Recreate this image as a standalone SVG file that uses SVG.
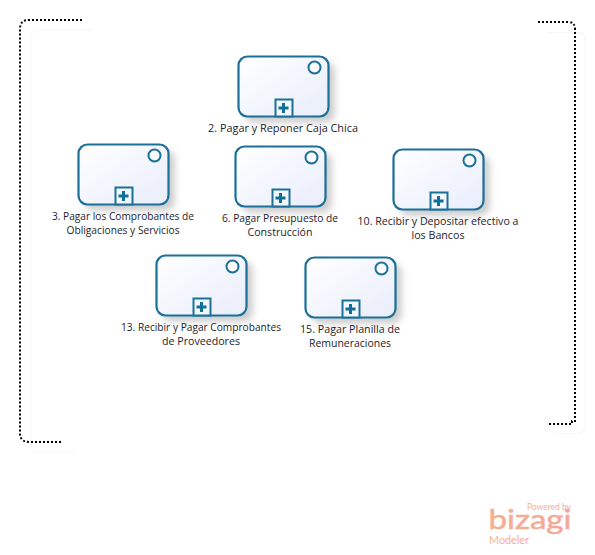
<svg xmlns="http://www.w3.org/2000/svg" width="595" height="555" viewBox="0 0 595 555">
<style>
.frame{fill:none;stroke:#000;stroke-width:2;stroke-dasharray:2 2}
.faint{fill:none;stroke:#f5f5f5;stroke-width:1}
.task{fill:url(#fillG);stroke:#1a7099;stroke-width:2.2}
.shadow{fill:#8d8d8d;opacity:.45;filter:url(#blur)}
.mark{fill:#fff;stroke:#1a7099;stroke-width:2}
.sub{fill:#f4f6fd;stroke:#1a7099;stroke-width:2}
.plus{fill:none;stroke:#0f6f99;stroke-width:3}
text{font-family:"Open Sans","Liberation Sans",sans-serif;font-size:10px;fill:#1c1c2c;text-anchor:middle}
text.logo{fill:url(#logoG);font-family:Lato,"Liberation Sans",sans-serif}
text.pw{font-size:9.500px;font-weight:400}
text.bz{font-size:26px;font-weight:400;stroke:#f4ad98;stroke-width:.5}
text.md{font-size:11px;font-weight:400}
</style>
<defs>
<linearGradient id="fillG" x1="0" y1="0" x2="1" y2="1"><stop offset="0" stop-color="#ffffff"/><stop offset="1" stop-color="#e9edfb"/></linearGradient>
<linearGradient id="logoG" x1="0" y1="0" x2="1" y2="0"><stop offset="0" stop-color="#f6b489"/><stop offset="1" stop-color="#f2a5a0"/></linearGradient>
<filter id="blur" x="-20%" y="-20%" width="140%" height="140%"><feGaussianBlur stdDeviation="3.500"/></filter>
<g id="taskShape">
<rect class="shadow" x="6" y="6" width="90" height="60" rx="9"/>
<rect class="task" width="90" height="60" rx="9"/>
<circle class="mark" cx="76" cy="11" r="6"/>
<rect class="sub" x="37" y="43" width="17" height="17"/>
<path class="plus" d="M40 51.500H50M45 46.500V56.500"/>
</g>
</defs>
<g id="frame">
<path class="faint" d="M31 93V37Q31 30 38 30H93M31 93V445Q31 452 38 452H76M555 433.500H578Q585 433.500 585 426V40Q585 32.500 578 32.500H548"/>
<path class="frame" d="M82 20H29Q20 20 20 29V433Q20 442 29 442H63"/>
<path class="frame" d="M538 22H568Q575 22 575 29V421H572V424H547"/>
</g>
<g id="connectors"/>
<g id="n2"><use href="#taskShape" x="238.500" y="56.500"/><text x="283" y="132" textLength="150" lengthAdjust="spacingAndGlyphs">2. Pagar y Reponer Caja Chica</text></g>
<g id="n3"><use href="#taskShape" x="78.500" y="144.500"/><text x="123" y="220" textLength="142" lengthAdjust="spacingAndGlyphs">3. Pagar los Comprobantes de</text><text x="123" y="234" textLength="113" lengthAdjust="spacingAndGlyphs">Obligaciones y Servicios</text></g>
<g id="n6"><use href="#taskShape" x="235.500" y="146.500"/><text x="280" y="222" textLength="116" lengthAdjust="spacingAndGlyphs">6. Pagar Presupuesto de</text><text x="280" y="236" textLength="65" lengthAdjust="spacingAndGlyphs">Construcción</text></g>
<g id="n10"><use href="#taskShape" x="393.500" y="149.500"/><text x="438" y="225" textLength="161" lengthAdjust="spacingAndGlyphs">10. Recibir y Depositar efectivo a</text><text x="438" y="239" textLength="53" lengthAdjust="spacingAndGlyphs">los Bancos</text></g>
<g id="n13"><use href="#taskShape" x="156.500" y="255.500"/><text x="201" y="331" textLength="160" lengthAdjust="spacingAndGlyphs">13. Recibir y Pagar Comprobantes</text><text x="201" y="345" textLength="78" lengthAdjust="spacingAndGlyphs">de Proveedores</text></g>
<g id="n15"><use href="#taskShape" x="305.500" y="257.500"/><text x="350" y="333" textLength="100" lengthAdjust="spacingAndGlyphs">15. Pagar Planilla de</text><text x="350" y="347" textLength="82" lengthAdjust="spacingAndGlyphs">Remuneraciones</text></g>
<g id="logo">
<text class="logo pw" x="549" y="510" textLength="44" lengthAdjust="spacingAndGlyphs">Powered by</text>
<text class="logo bz" x="530" y="529" textLength="83" lengthAdjust="spacingAndGlyphs">bizagi</text>
<text class="logo md" x="509" y="544" textLength="40" lengthAdjust="spacingAndGlyphs">Modeler</text>
</g>
</svg>
